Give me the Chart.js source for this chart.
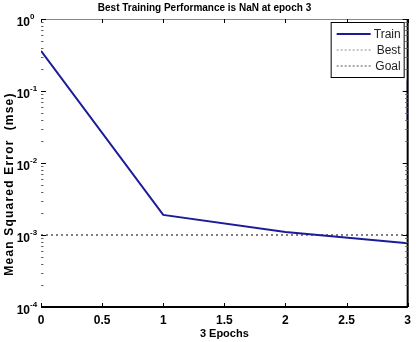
<!DOCTYPE html>
<html>
<head>
<meta charset="utf-8">
<script src="https://cdn.jsdelivr.net/npm/chart.js@4"></script>
<style>
  html, body { margin: 0; padding: 0; background: #fff; }
  #wrap { width: 417px; height: 342px; }
</style>
</head>
<body>
<div id="wrap"><canvas id="perf"></canvas></div>
<script>
// values
const epochs = [0, 1, 2, 3];
const trainMse = [0.36, 0.0019, 0.0011, 0.00077];
const goalEpochs = [0, 3];
const goalMse = [0.001, 0.001];
const nanEpochs = [3, 3];
const nanMse = [0.14, 0.04];
const xTicks = [0, 0.5, 1, 1.5, 2, 2.5, 3];
const yDecades = [0, -1, -2, -3, -4];
const yTitle = "Mean Squared Error  (mse)";

const trainColor = "#1c1c99";
const goalColor = "#555555";
const bestColor = "#8a8a8a";
const fontFamily = "'Liberation Sans', Arial, sans-serif";

const toPoints = (xs, ys) => xs.map((x, i) => ({ x: x, y: ys[i] }));

// box, inward ticks, 10^n labels, y title and legend, matlab style
const matlabFrame = {
  id: "matlabFrame",
  afterDatasetsDraw(chart) {
    const ctx = chart.ctx;
    const a = chart.chartArea;
    const xs = chart.scales.x;
    const ys = chart.scales.y;
    ctx.save();

    // frame
    ctx.lineWidth = 1;
    ctx.strokeStyle = "#888";
    ctx.beginPath();
    ctx.moveTo(a.left, a.top + 0.5);
    ctx.lineTo(a.right, a.top + 0.5);
    ctx.stroke();
    ctx.strokeStyle = "#000";
    ctx.lineWidth = 2;
    ctx.beginPath();
    ctx.moveTo(a.left, a.bottom);
    ctx.lineTo(a.right, a.bottom);
    ctx.moveTo(a.right, a.top);
    ctx.lineTo(a.right, a.bottom);
    ctx.stroke();

    // x ticks top and bottom
    ctx.lineWidth = 1;
    ctx.strokeStyle = "#000";
    xTicks.forEach((v) => {
      const px = Math.round(xs.getPixelForValue(v)) + 0.5;
      ctx.beginPath();
      ctx.moveTo(px, a.bottom);
      ctx.lineTo(px, a.bottom - 4);
      ctx.moveTo(px, a.top);
      ctx.lineTo(px, a.top + 4);
      ctx.stroke();
    });

    // y ticks, major and minor, both sides
    for (let e = -4; e <= 0; e++) {
      for (let m = 1; m <= 9; m++) {
        const v = m * Math.pow(10, e);
        if (v > 1) break;
        const py = Math.round(ys.getPixelForValue(v)) + 0.5;
        const len = m === 1 ? 5 : 2.5;
        ctx.strokeStyle = m === 1 ? "#000" : "#666";
        ctx.beginPath();
        ctx.moveTo(a.left, py);
        ctx.lineTo(a.left + len, py);
        ctx.moveTo(a.right, py);
        ctx.lineTo(a.right - len, py);
        ctx.stroke();
      }
    }

    // y tick labels with real superscripts
    ctx.fillStyle = "#000";
    ctx.textBaseline = "middle";
    yDecades.forEach((e) => {
      const py = ys.getPixelForValue(Math.pow(10, e));
      ctx.font = "bold 12px " + fontFamily;
      ctx.textAlign = "right";
      ctx.fillText("10", a.left - 11, py + 4);
      ctx.font = "bold 8px " + fontFamily;
      ctx.textAlign = "left";
      ctx.fillText(e === 0 ? "0" : "-" + Math.abs(e), a.left - 11, py - 2);
    });

    // y title, rotated, sits a bit lower than the axis middle
    ctx.save();
    ctx.translate(10, 184);
    ctx.rotate(-Math.PI / 2);
    ctx.font = "bold 12px " + fontFamily;
    ctx.letterSpacing = "1.2px";
    ctx.textAlign = "center";
    ctx.fillText(yTitle, 0, 0);
    ctx.restore();

    // legend box
    const lx = a.right - 77, ly = a.top + 3, lw = 73, lh = 55;
    ctx.fillStyle = "#fff";
    ctx.fillRect(lx, ly, lw, lh);
    ctx.strokeStyle = "#000";
    ctx.lineWidth = 1;
    ctx.strokeRect(lx + 0.5, ly + 0.5, lw, lh);
    const items = [
      { label: "Train", color: trainColor, width: 2, dash: [] },
      { label: "Best", color: bestColor, width: 1, dash: [2, 2] },
      { label: "Goal", color: goalColor, width: 1, dash: [2, 2] },
    ];
    ctx.font = "12px " + fontFamily;
    ctx.textBaseline = "middle";
    items.forEach((it, i) => {
      const y = ly + 12 + i * 16;
      ctx.strokeStyle = it.color;
      ctx.lineWidth = it.width;
      ctx.setLineDash(it.dash);
      ctx.beginPath();
      ctx.moveTo(lx + 6, y);
      ctx.lineTo(lx + 40, y);
      ctx.stroke();
      ctx.setLineDash([]);
      ctx.fillStyle = "#222";
      ctx.textAlign = "right";
      ctx.fillText(it.label, lx + lw - 3, y + 1);
    });
    ctx.restore();
  },
};

new Chart(document.getElementById("perf"), {
  type: "line",
  data: {
    datasets: [
      {
        label: "Train",
        data: toPoints(epochs, trainMse),
        borderColor: trainColor,
        borderWidth: 2,
        pointRadius: 0,
        tension: 0,
      },
      {
        label: "Goal",
        data: toPoints(goalEpochs, goalMse),
        borderColor: goalColor,
        borderWidth: 1.5,
        borderDash: [2, 3],
        pointRadius: 0,
      },
      {
        label: "NaN",
        data: toPoints(nanEpochs, nanMse),
        borderColor: trainColor,
        borderWidth: 2,
        pointRadius: 0,
      },
    ],
  },
  options: {
    responsive: true,
    maintainAspectRatio: false,
    animation: false,
    layout: { padding: { left: 0, right: 8, top: 0, bottom: 0 } },
    plugins: {
      legend: { display: false },
      tooltip: { enabled: false },
      title: {
        display: true,
        text: "Best Training Performance is NaN at epoch 3",
        color: "#000",
        font: { family: fontFamily, size: 10, weight: "bold" },
        padding: { top: 2, bottom: 5 },
      },
    },
    scales: {
      x: {
        type: "linear",
        min: 0,
        max: 3,
        grid: { display: false, drawTicks: false },
        border: { display: false },
        afterBuildTicks: (scale) => {
          scale.ticks = xTicks.map((v) => ({ value: v }));
        },
        afterFit: (scale) => {
          scale.height = 35;
        },
        ticks: {
          color: "#000",
          font: { family: fontFamily, size: 12, weight: "bold" },
          padding: 6,
          maxRotation: 0,
          autoSkip: false,
          callback: (v) => String(v),
        },
        title: {
          display: true,
          text: "3 Epochs",
          color: "#000",
          font: { family: fontFamily, size: 11, weight: "bold" },
          padding: { top: 0, bottom: 1 },
        },
      },
      y: {
        type: "logarithmic",
        min: 0.0001,
        max: 1,
        grid: { display: false, drawTicks: false },
        border: { display: false },
        afterFit: (scale) => {
          scale.width = 41;
        },
        ticks: {
          autoSkip: false,
          callback: () => "",
        },
      },
    },
  },
  plugins: [matlabFrame],
});
</script>
</body>
</html>
